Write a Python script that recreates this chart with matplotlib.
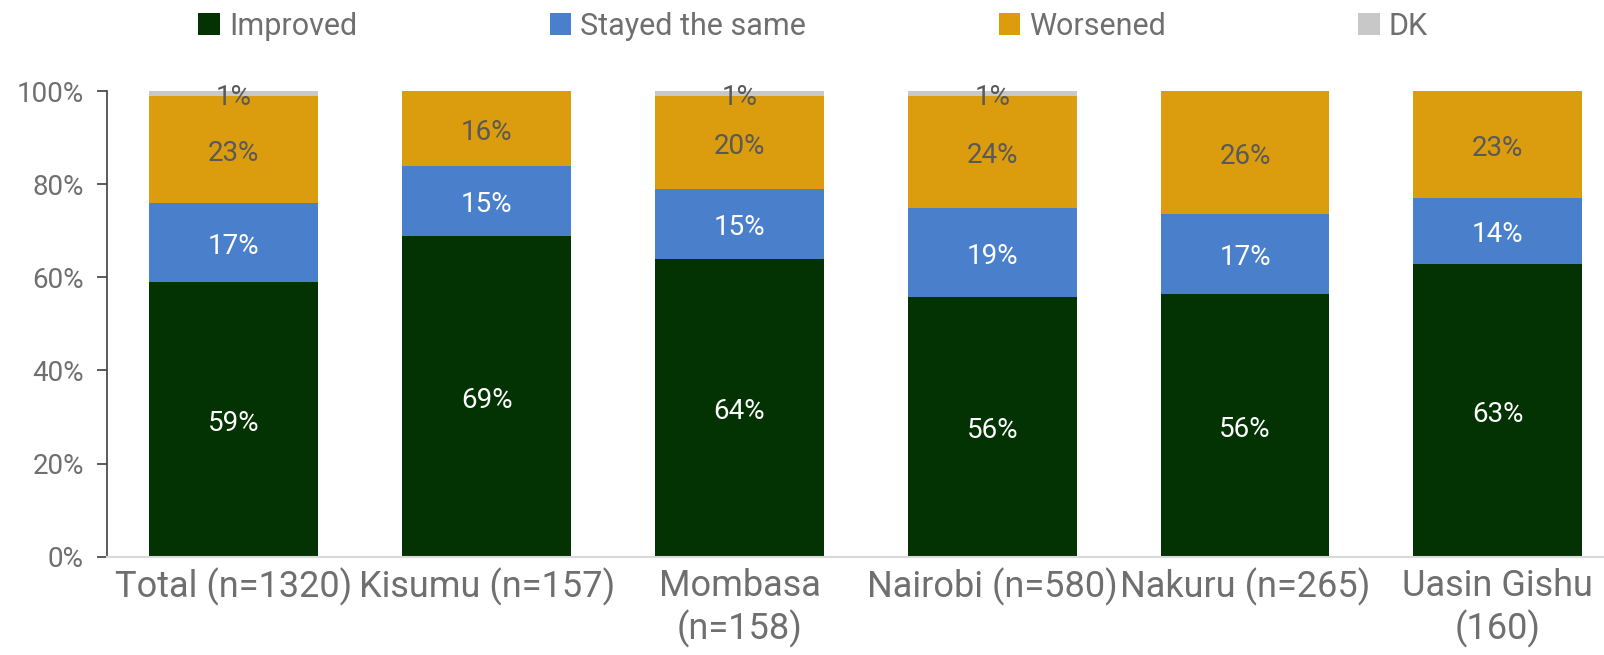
import numpy as np
import matplotlib
matplotlib.use('Agg')
from matplotlib import pyplot as plt

plt.rcParams['font.family'] = ['Roboto', 'DejaVu Sans']

categories = ['Total (n=1320)', 'Kisumu (n=157)', 'Mombasa\n(n=158)',
              'Nairobi (n=580)', 'Nakuru (n=265)', 'Uasin Gishu\n(160)']
improved = [58.9, 68.8, 64.0, 55.8, 56.4, 62.9]
stayed = [17.1, 15.2, 14.9, 19.1, 17.2, 14.2]
worsened = [22.9, 16.0, 20.0, 24.0, 26.4, 22.9]
dk = [1.1, 0.0, 1.1, 1.1, 0.0, 0.0]

series = [('Improved', improved, '#033303', 'white'),
          ('Stayed the same', stayed, '#4a7fcb', 'white'),
          ('Worsened', worsened, '#db9c0e', '#595959'),
          ('DK', dk, '#c8c8c8', '#595959')]

fig = plt.figure(figsize=(16.04, 6.55), dpi=100)
ax = fig.add_axes([0.067, 0.150, 0.933, 0.711])

x = np.arange(len(categories))
bottom = np.zeros(len(categories))
for name, vals, col, tcol in series:
    vals = np.array(vals)
    ax.bar(x, vals, 0.668, bottom=bottom, color=col, label=name)
    for xi, b, v in zip(x, bottom, vals):
        if v > 0:
            ax.text(xi, b + v / 2 - 0.8, '%d%%' % round(v), ha='center',
                    va='center', fontsize=20, color=tcol)
    bottom += vals

ax.set_xlim(-0.5, 5.42)
ax.set_ylim(0, 100)
ax.set_yticks(np.arange(0, 101, 20))
ax.set_yticklabels(['%d%%' % v for v in range(0, 101, 20)])
ax.set_xticks(x)
ax.set_xticklabels(categories)
ax.tick_params(axis='y', labelsize=20, labelcolor='#6f6f6f', color='#404040',
               length=7, width=1.2, pad=10)
ax.tick_params(axis='x', labelsize=26, labelcolor='#6f6f6f', length=0, pad=8)
for s in ['top', 'right']:
    ax.spines[s].set_visible(False)
ax.spines['left'].set_color('#404040')
ax.spines['left'].set_linewidth(1.2)
ax.spines['bottom'].set_color('#d9d9d9')
ax.spines['bottom'].set_linewidth(1.5)

fig.legend(loc='center', bbox_to_anchor=(0.507, 0.960), ncol=4, frameon=False,
           fontsize=22, labelcolor='#6f6f6f', handlelength=0.7, handleheight=0.7,
           handletextpad=0.3, columnspacing=6.3)

fig.savefig('out.png', dpi=100)
